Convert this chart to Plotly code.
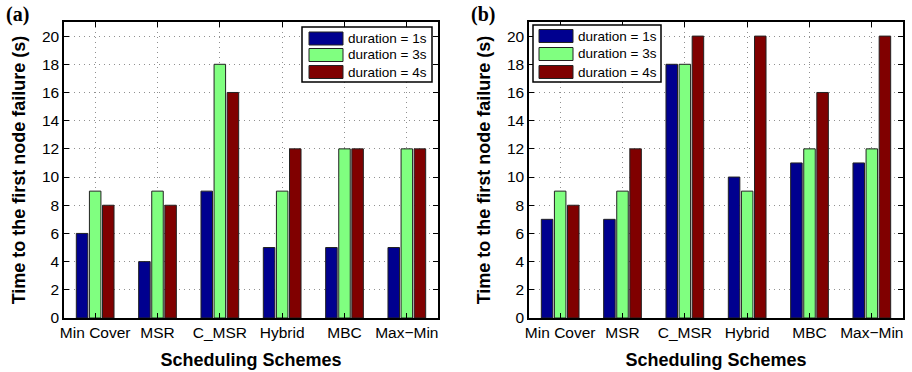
import plotly.graph_objects as go

categories = ["Min Cover", "MSR", "C_MSR", "Hybrid", "MBC", "Max\u2212Min"]
series_names = ["duration = 1s", "duration = 3s", "duration = 4s"]
colors = ["#00008F", "#80FF80", "#800000"]

a_1s = [6, 4, 9, 5, 5, 5]
a_3s = [9, 9, 18, 9, 12, 12]
a_4s = [8, 8, 16, 12, 12, 12]

b_1s = [7, 7, 18, 10, 11, 11]
b_3s = [9, 9, 18, 9, 12, 12]
b_4s = [8, 12, 20, 20, 16, 20]

yticks = [0, 2, 4, 6, 8, 10, 12, 14, 16, 18, 20]

W, H = 912, 372
FONT = "Liberation Sans, Arial, sans-serif"
EDGE = "#222222"

fig = go.Figure()
xpos = list(range(1, len(categories) + 1))

for vals, name, col in zip([a_1s, a_3s, a_4s], series_names, colors):
    fig.add_trace(go.Bar(x=xpos, y=vals, name=name, marker=dict(color=col, line=dict(color=EDGE, width=1)),
                         xaxis="x", yaxis="y", showlegend=False))
for vals, name, col in zip([b_1s, b_3s, b_4s], series_names, colors):
    fig.add_trace(go.Bar(x=xpos, y=vals, name=name, marker=dict(color=col, line=dict(color=EDGE, width=1)),
                         xaxis="x2", yaxis="y2", showlegend=False))


def px_x(p):
    return p / W


def px_y(p):
    return (H - p) / H


axis_common = dict(showline=True, linecolor="black", linewidth=1.5, mirror="ticks",
                   ticks="inside", ticklen=5, tickcolor="black", tickwidth=1,
                   showgrid=True, gridcolor="#909090", griddash="1px,4px", gridwidth=1,
                   zeroline=False, automargin=False,
                   tickfont=dict(family=FONT, size=15.5, color="black"))

xcommon = dict(axis_common, tickmode="array", tickvals=xpos, ticktext=categories, range=[0.5, 6.5],
               title=dict(text="<b>Scheduling Schemes</b>", font=dict(family=FONT, size=18, color="black"), standoff=13))
ycommon = dict(axis_common, tickmode="array", tickvals=yticks, range=[0, 21],
               title=dict(text="<b>Time to the first node failure (s)</b>", font=dict(family=FONT, size=18, color="black"), standoff=12))

# hand-built legends (MATLAB-style wide swatches)
shapes = []
annotations = []


def add_legend(left, top, right, bottom, sw_left, text_left, row_centers):
    shapes.append(dict(type="rect", xref="paper", yref="paper",
                       x0=px_x(left), x1=px_x(right), y0=px_y(bottom), y1=px_y(top),
                       line=dict(color="black", width=1.5), fillcolor="white", layer="above"))
    for name, col, yc in zip(series_names, colors, row_centers):
        shapes.append(dict(type="rect", xref="paper", yref="paper",
                           x0=px_x(sw_left), x1=px_x(sw_left + 34), y0=px_y(yc + 6.5), y1=px_y(yc - 6.5),
                           line=dict(color=EDGE, width=1), fillcolor=col, layer="above"))
        annotations.append(dict(text=name, x=px_x(text_left), y=px_y(yc), xref="paper", yref="paper",
                                xanchor="left", yanchor="middle", showarrow=False,
                                font=dict(family=FONT, size=13.5, color="black")))


add_legend(302, 27, 432, 82, 309, 346, [38.5, 55, 72])
add_legend(533, 25, 661, 82, 539, 576, [36, 54, 72])

annotations += [
    dict(text="<b>(a)</b>", x=px_x(4), y=px_y(1), xref="paper", yref="paper", xanchor="left", yanchor="top",
         showarrow=False, font=dict(family="Liberation Serif, Times New Roman, serif", size=20, color="black")),
    dict(text="<b>(b)</b>", x=px_x(469), y=px_y(1), xref="paper", yref="paper", xanchor="left", yanchor="top",
         showarrow=False, font=dict(family="Liberation Serif, Times New Roman, serif", size=20, color="black")),
]

fig.update_layout(
    width=W, height=H,
    margin=dict(l=0, r=0, t=0, b=0),
    paper_bgcolor="white", plot_bgcolor="white",
    barmode="group", bargap=0.37, bargroupgap=0.12,
    xaxis=dict(xcommon, domain=[px_x(64), px_x(438)], anchor="y"),
    yaxis=dict(ycommon, domain=[px_y(318), px_y(22)], anchor="x"),
    xaxis2=dict(xcommon, domain=[px_x(529), px_x(903)], anchor="y2"),
    yaxis2=dict(ycommon, domain=[px_y(318), px_y(22)], anchor="x2"),
    shapes=shapes,
    annotations=annotations,
)

fig.write_html("out.html", config={"displayModeBar": False},
               post_script="document.body.style.margin='0';document.body.style.overflow='hidden';")
